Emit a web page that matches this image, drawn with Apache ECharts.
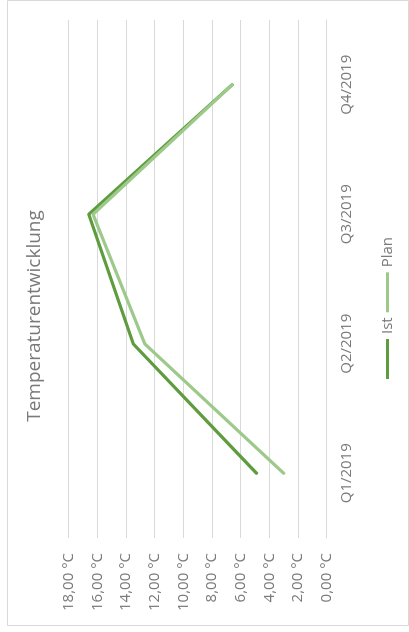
<!DOCTYPE html>
<html>
<head>
<meta charset="utf-8">
<script src="https://cdn.jsdelivr.net/npm/echarts@6/dist/echarts.min.js"></script>
<style>
html,body{margin:0;padding:0;background:#fff;overflow:hidden;}
#wrap{position:absolute;left:0;top:0;width:409px;height:632px;overflow:hidden;}
#c{position:absolute;left:0;top:0;width:632px;height:409px;transform-origin:0 0;transform:translateY(632px) rotate(-90deg);}
</style>
</head>
<body>
<div id="wrap"><div id="c"></div></div>
<script>
const categories = ['Q1/2019', 'Q2/2019', 'Q3/2019', 'Q4/2019'];
const istValues = [4.9, 13.5, 16.6, 6.6];
const planValues = [3.0, 12.7, 16.3, 6.6];
const seriesNames = ['Ist', 'Plan'];
const titleText = 'Temperaturentwicklung';

const chart = echarts.init(document.getElementById('c'), null, {renderer: 'canvas'});
const textColor = '#7a7a7a';
const font = '"Open Sans", "Segoe UI", sans-serif';
chart.setOption({
  animation: false,
  backgroundColor: '#fff',
  title: {
    text: titleText,
    left: 'center',
    top: 20,
    textStyle: {fontFamily: font, fontSize: 19, fontWeight: 'normal', color: textColor}
  },
  legend: {
    data: seriesNames,
    left: 248,
    top: 375,
    icon: 'rect',
    itemWidth: 40,
    itemHeight: 3,
    itemGap: 5,
    textStyle: {fontFamily: font, fontSize: 15, color: textColor}
  },
  grid: {left: 94, right: 20, top: 68.7, bottom: 82.3, containLabel: false},
  xAxis: {
    type: 'category',
    data: categories,
    boundaryGap: true,
    axisLine: {show: true, lineStyle: {color: '#d9d9d9'}},
    axisTick: {show: false},
    axisLabel: {margin: 13, fontFamily: font, fontSize: 15, color: textColor}
  },
  yAxis: {
    type: 'value',
    min: 0, max: 18, interval: 2,
    axisLine: {show: false},
    axisTick: {show: false},
    splitLine: {lineStyle: {color: '#d9d9d9', width: 1}},
    axisLabel: {
      margin: 15, fontFamily: font, fontSize: 15, color: textColor,
      formatter: v => v.toFixed(2).replace('.', ',') + ' °C'
    }
  },
  series: [
    {name: seriesNames[0], type: 'line', data: istValues, symbol: 'none',
     lineStyle: {color: '#5e9c3f', width: 3.2, cap: 'round', join: 'round'}, itemStyle: {color: '#5e9c3f'}},
    {name: seriesNames[1], type: 'line', data: planValues, symbol: 'none',
     lineStyle: {color: '#9dca8a', width: 3.2, cap: 'round', join: 'round'}, itemStyle: {color: '#9dca8a'}}
  ],
  graphic: [{
    type: 'rect', silent: true,
    shape: {x: 6.5, y: 7.5, width: 625, height: 401},
    style: {fill: 'none', stroke: '#d9d9d9', lineWidth: 1}
  }]
});
</script>
</body>
</html>
